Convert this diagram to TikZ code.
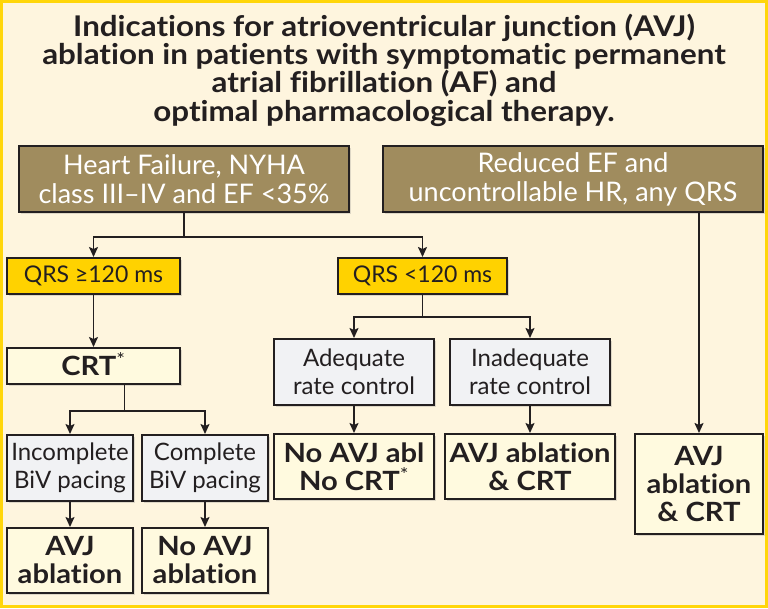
\documentclass[tikz,border=0pt]{standalone}
\usepackage{fontspec}
\setmainfont{Lato}
\newfontfamily\heavy[FakeStretch=1.1,Ligatures=NoCommon]{Lato}
\usetikzlibrary{arrows.meta,positioning,shadows}
\definecolor{frame}{HTML}{FFD60A}
\definecolor{paper}{HTML}{FEF5DE}
\definecolor{olive}{HTML}{A08C5E}
\definecolor{qrsyellow}{HTML}{FFD200}
\definecolor{pale}{HTML}{F1F2F4}
\definecolor{result}{HTML}{FFFADF}
\definecolor{ink}{HTML}{231F20}
\newcommand{\note}{\smash{\textsuperscript{\mdseries *}}}

\begin{document}
\begin{tikzpicture}[x=1pt,y=-1pt,node distance=25pt and 7pt, every node/.style={align=center,inner sep=0pt}, box/.style={draw=ink,line width=2pt,rectangle,drop shadow={shadow xshift=1.5pt,shadow yshift=-1.5pt,opacity=.25}}, head/.style={box,fill=olive,text=white,font=\fontsize{27}{29}\selectfont,minimum height=66pt}, qrs/.style={box,fill=qrsyellow,text=ink,font=\fontsize{23}{28}\selectfont,minimum width=173pt,minimum height=36pt}, cond/.style={box,fill=pale,text=ink,font=\fontsize{24}{28}\selectfont,minimum height=66pt}, res/.style={box,fill=result,text=ink,font=\heavy\bfseries\fontsize{26.5}{28}\selectfont,minimum height=65pt}, arr/.style={-{Stealth[length=10pt,width=9pt,inset=2pt]},line width=1.7pt,draw=ink}]
\useasboundingbox (0,0) rectangle (768,608);
\fill[frame] (0,0) rectangle (768,608);
\fill[paper] (2.5,3) rectangle (765,604.5);
\node[font=\heavy\bfseries\fontsize{28.5}{28.3}\selectfont,text=ink] (title) at (384,70) {Indications for atrioventricular junction (AVJ)\\ablation in patients with symptomatic permanent\\atrial fibrillation (AF) and\\optimal pharmacological therapy.};
\node[head,minimum width=330pt] (hf) at (184,179) {Heart Failure, NYHA\\class III–IV and EF <35\%};
\node[head,minimum width=380pt,right=32pt of hf] (ref) {Reduced EF and\\uncontrollable HR, any QRS};
\node[qrs] (qrsA) at (93.5,276) {QRS ≥120 ms};
\node[qrs,minimum width=169pt] (qrsB) at (422.5,276) {QRS <120 ms};
\node[res,minimum width=173pt,minimum height=36pt,below=52pt of qrsA] (crt) {CRT\note};
\node[cond,minimum width=126pt,below=49pt of crt.south west,anchor=north west] (inc) {Incomplete\\BiV pacing};
\node[cond,minimum width=126pt,right=of inc] (comp) {Complete\\BiV pacing};
\node[res,minimum width=126pt,below=of inc] (ablA) {AVJ\\ablation};
\node[res,minimum width=126pt,below=of comp] (ablB) {No AVJ\\ablation};
\node[cond,minimum width=160pt] (adeq) at (354,372) {Adequate\\rate control};
\node[cond,minimum width=160pt,right=14pt of adeq] (inadeq) {Inadequate\\rate control};
\node[res,minimum width=160pt,below=27pt of adeq] (noabl) {No AVJ abl\\No CRT\note};
\node[res,minimum width=170pt,below=27pt of inadeq] (ablcrt) {AVJ ablation\\\& CRT};
\node[res,minimum width=128pt,minimum height=100pt,below=220pt of ref.south east,anchor=north east] (ablcrtR) {AVJ\\ablation\\\& CRT};
\draw[arr] (hf.south) -- ++(0,24) -| (qrsA.north);
\draw[arr] (hf.south) -- ++(0,24) -| (qrsB.north);
\draw[arr] (qrsA) -- (crt);
\draw[arr] ([xshift=31pt]crt.south) -- ++(0,26) -| (inc.north);
\draw[arr] ([xshift=31pt]crt.south) -- ++(0,26) -| (comp.north);
\draw[arr] (inc) -- (ablA);
\draw[arr] (comp) -- (ablB);
\draw[arr] (qrsB.south) -- ++(0,22) -| (adeq.north);
\draw[arr] (qrsB.south) -- ++(0,22) -| (inadeq.north);
\draw[arr] (adeq) -- (noabl);
\draw[arr] (inadeq) -- (ablcrt);
\draw[arr] (ablcrtR.north |- ref.south) -- (ablcrtR);
\end{tikzpicture}
\end{document}
